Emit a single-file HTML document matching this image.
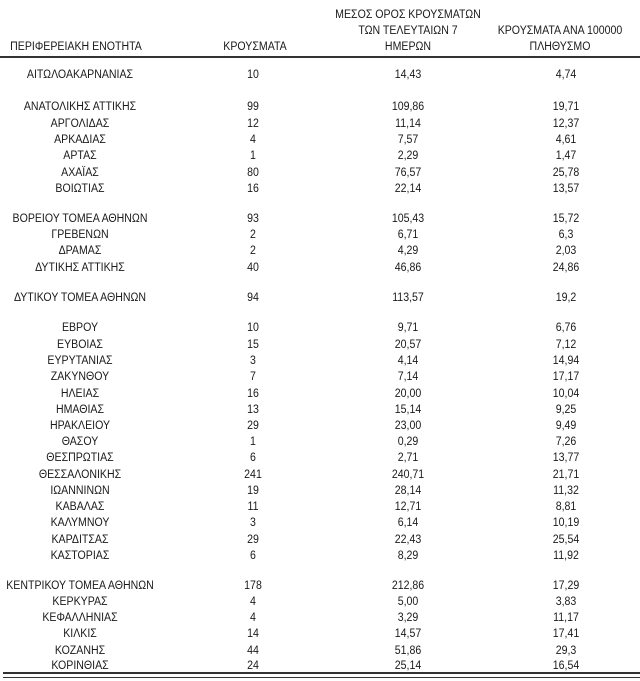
<!DOCTYPE html>
<html><head><meta charset="utf-8"><style>
body{margin:0;width:640px;height:681px;background:#fff;position:relative;overflow:hidden;font-family:"Liberation Sans","DejaVu Sans",sans-serif;font-size:11.5px;color:#1a1a1a}
.t{position:absolute;white-space:nowrap;transform:translate(-50%,-50%) scaleX(0.92)}
.l{position:absolute;left:0;width:640px;background:#333}
</style></head><body>
<div class="t" style="left:408px;top:15px">ΜΕΣΟΣ ΟΡΟΣ ΚΡΟΥΣΜΑΤΩΝ</div>
<div class="t" style="left:408px;top:31px">ΤΩΝ ΤΕΛΕΥΤΑΙΩΝ 7</div>
<div class="t" style="left:408px;top:47px">ΗΜΕΡΩΝ</div>
<div class="t" style="left:560px;top:31px">ΚΡΟΥΣΜΑΤΑ ΑΝΑ 100000</div>
<div class="t" style="left:560px;top:47px">ΠΛΗΘΥΣΜΟ</div>
<div class="t" style="left:76px;top:47px">ΠΕΡΙΦΕΡΕΙΑΚΗ ΕΝΟΤΗΤΑ</div>
<div class="t" style="left:255px;top:47px">ΚΡΟΥΣΜΑΤΑ</div>
<div class="l" style="top:56px;height:2px"></div>
<div class="l" style="top:672px;left:3px;height:2px"></div>
<div class="l" style="top:677px;left:3px;height:1px"></div>
<div id="rows"></div>
<script>
var d=[[75,"ΑΙΤΩΛΟΑΚΑΡΝΑΝΙΑΣ","10","14,43","4,74"],[107,"ΑΝΑΤΟΛΙΚΗΣ ΑΤΤΙΚΗΣ","99","109,86","19,71"],[124,"ΑΡΓΟΛΙΔΑΣ","12","11,14","12,37"],[140,"ΑΡΚΑΔΙΑΣ","4","7,57","4,61"],[156,"ΑΡΤΑΣ","1","2,29","1,47"],[173,"ΑΧΑΪΑΣ","80","76,57","25,78"],[189,"ΒΟΙΩΤΙΑΣ","16","22,14","13,57"],[219,"ΒΟΡΕΙΟΥ ΤΟΜΕΑ ΑΘΗΝΩΝ","93","105,43","15,72"],[235,"ΓΡΕΒΕΝΩΝ","2","6,71","6,3"],[251,"ΔΡΑΜΑΣ","2","4,29","2,03"],[268,"ΔΥΤΙΚΗΣ ΑΤΤΙΚΗΣ","40","46,86","24,86"],[298,"ΔΥΤΙΚΟΥ ΤΟΜΕΑ ΑΘΗΝΩΝ","94","113,57","19,2"],[328,"ΕΒΡΟΥ","10","9,71","6,76"],[345,"ΕΥΒΟΙΑΣ","15","20,57","7,12"],[361,"ΕΥΡΥΤΑΝΙΑΣ","3","4,14","14,94"],[377,"ΖΑΚΥΝΘΟΥ","7","7,14","17,17"],[394,"ΗΛΕΙΑΣ","16","20,00","10,04"],[410,"ΗΜΑΘΙΑΣ","13","15,14","9,25"],[426,"ΗΡΑΚΛΕΙΟΥ","29","23,00","9,49"],[442,"ΘΑΣΟΥ","1","0,29","7,26"],[458,"ΘΕΣΠΡΩΤΙΑΣ","6","2,71","13,77"],[475,"ΘΕΣΣΑΛΟΝΙΚΗΣ","241","240,71","21,71"],[491,"ΙΩΑΝΝΙΝΩΝ","19","28,14","11,32"],[507,"ΚΑΒΑΛΑΣ","11","12,71","8,81"],[523,"ΚΑΛΥΜΝΟΥ","3","6,14","10,19"],[540,"ΚΑΡΔΙΤΣΑΣ","29","22,43","25,54"],[556,"ΚΑΣΤΟΡΙΑΣ","6","8,29","11,92"],[586,"ΚΕΝΤΡΙΚΟΥ ΤΟΜΕΑ ΑΘΗΝΩΝ","178","212,86","17,29"],[602,"ΚΕΡΚΥΡΑΣ","4","5,00","3,83"],[618,"ΚΕΦΑΛΛΗΝΙΑΣ","4","3,29","11,17"],[634,"ΚΙΛΚΙΣ","14","14,57","17,41"],[651,"ΚΟΖΑΝΗΣ","44","51,86","29,3"],[666,"ΚΟΡΙΝΘΙΑΣ","24","25,14","16,54"]];
var xs=[80,253,408,566],h="";
d.forEach(function(r){for(var i=0;i<4;i++)h+='<div class="t" style="left:'+xs[i]+'px;top:'+r[0]+'px">'+r[i+1]+'</div>';});
document.getElementById("rows").innerHTML=h;
</script>
</body></html>
